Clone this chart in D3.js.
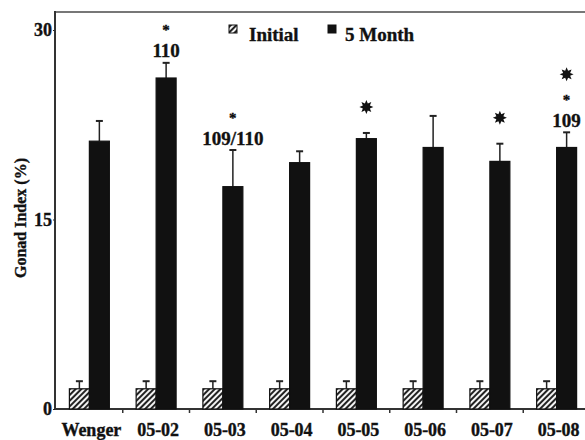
<!DOCTYPE html>
<html>
<head>
<meta charset="utf-8">
<script src="https://d3js.org/d3.v7.min.js"></script>
<style>
  html, body { margin: 0; padding: 0; background: #fff; }
  svg { display: block; }
  text { font-family: "Liberation Serif", "Times New Roman", serif; font-weight: bold; fill: #111; stroke: #111; stroke-width: 0.35px; }
</style>
</head>
<body>
<svg id="chart" width="585" height="440"></svg>
<script>
const categories = ["Wenger", "05-02", "05-03", "05-04", "05-05", "05-06", "05-07", "05-08"];
const seriesNames = ["Initial", "5 Month"];
const initialValues = [1.6, 1.6, 1.6, 1.6, 1.6, 1.6, 1.6, 1.6];
const initialErrors = [0.6, 0.6, 0.6, 0.6, 0.6, 0.6, 0.6, 0.6];
const monthValues = [21.2, 26.2, 17.6, 19.5, 21.4, 20.7, 19.6, 20.7];
const monthErrors = [1.6, 1.2, 2.9, 0.9, 0.45, 2.5, 1.4, 1.2];
const annotationLabels = ["", "110", "109/110", "", "", "", "", "109"];
const smallStars = [false, true, true, false, false, false, false, true];
const bigStars = [false, false, false, false, true, false, true, true];
const yTicks = [0, 15, 30];

(function () {
const svg = d3.select("#chart");
const leftX = 55, bottomY = 409, topY = 12;

const defs = svg.append("defs");
const pat = defs.append("pattern")
  .attr("id", "hatch").attr("patternUnits", "userSpaceOnUse")
  .attr("width", 4).attr("height", 4)
  .attr("patternTransform", "rotate(45)");
pat.append("rect").attr("width", 4).attr("height", 4).attr("fill", "#f4f4f4");
pat.append("rect").attr("width", 2).attr("height", 4).attr("fill", "#222");

const y = d3.scaleLinear().domain([0, 30]).range([bottomY, 30]);
const x = d3.scaleBand().domain(categories).range([56, 590]).padding(0);
const xs = d3.scaleBand().domain(seriesNames).range([0, x.bandwidth()])
  .paddingInner(0).paddingOuter(0.67);

// frame top line
svg.append("line").attr("x1", leftX).attr("x2", 585).attr("y1", topY).attr("y2", topY)
  .attr("stroke", "#777").attr("stroke-width", 2);

// y axis
const yAxis = d3.axisLeft(y).tickValues(yTicks).tickSize(2).tickPadding(1).tickFormat(d3.format("d"));
const gy = svg.append("g").attr("transform", `translate(${leftX},0)`).call(yAxis);
gy.select(".domain").remove();
gy.selectAll(".tick line").attr("stroke", "#222");
gy.selectAll(".tick text").style("font-size", "18px").style("font-family", "Liberation Serif").style("font-weight", "bold").attr("fill", "#111");
svg.append("line").attr("x1", leftX).attr("x2", leftX).attr("y1", topY - 1).attr("y2", bottomY)
  .attr("stroke", "#333").attr("stroke-width", 2);

// x axis
const boundaries = categories.map(c => x(c)).concat([x(categories[categories.length-1]) + x.bandwidth()]);
svg.append("line").attr("x1", leftX).attr("x2", 585).attr("y1", bottomY).attr("y2", bottomY)
  .attr("stroke", "#333").attr("stroke-width", 2);
svg.selectAll(".xtick").data(boundaries.slice(1)).join("line")
  .attr("x1", d => d).attr("x2", d => d).attr("y1", bottomY).attr("y2", bottomY + 4)
  .attr("stroke", "#333").attr("stroke-width", 1.5);
svg.selectAll(".xlab").data(categories).join("text")
  .attr("x", d => x(d) + x.bandwidth() / 2 + 2)
  .attr("y", 436)
  .attr("text-anchor", "middle")
  .style("font-size", "18px")
  .text(d => d);

// y title
svg.append("text")
  .attr("transform", "translate(26,218) rotate(-90)")
  .attr("text-anchor", "middle")
  .style("font-size", "16px")
  .text("Gonad Index (%)");

// bars
const data = categories.map((c, i) => ({
  c, i,
  vals: [
    { s: "Initial", v: initialValues[i], e: initialErrors[i] },
    { s: "5 Month", v: monthValues[i], e: monthErrors[i] }
  ]
}));

const groups = svg.selectAll(".grp").data(data).join("g")
  .attr("transform", d => `translate(${x(d.c)},0)`);

groups.selectAll(".err").data(d => d.vals).join("g").each(function(d) {
  const g = d3.select(this);
  const cx = xs(d.s) + xs.bandwidth() / 2;
  g.append("line").attr("x1", cx).attr("x2", cx).attr("y1", y(d.v)).attr("y2", y(d.v + d.e))
    .attr("stroke", "#222").attr("stroke-width", 1.5);
  g.append("line").attr("x1", cx - 3.5).attr("x2", cx + 3.5).attr("y1", y(d.v + d.e)).attr("y2", y(d.v + d.e))
    .attr("stroke", "#222").attr("stroke-width", 2);
});

groups.selectAll(".bar").data(d => d.vals).join("rect")
  .attr("x", d => xs(d.s))
  .attr("width", xs.bandwidth())
  .attr("y", d => y(d.v))
  .attr("height", d => y(0) - y(d.v))
  .attr("fill", d => d.s === "Initial" ? "url(#hatch)" : "#111")
  .attr("stroke", "#111").attr("stroke-width", 1.2);

// star shape
function starPath(r1, r2, n) {
  const pts = [];
  for (let k = 0; k < 2 * n; k++) {
    const r = k % 2 === 0 ? r1 : r2;
    const a = Math.PI * k / n - Math.PI / 2;
    pts.push([r * Math.cos(a), r * Math.sin(a)]);
  }
  return "M" + pts.map(p => p.join(",")).join("L") + "Z";
}

// annotations
categories.forEach((c, i) => {
  const cx = x(c) + xs("5 Month") + xs.bandwidth() / 2;
  const errTop = y(monthValues[i] + monthErrors[i]);
  if (annotationLabels[i]) {
    svg.append("text").attr("x", cx).attr("y", errTop - 12).attr("dy", "0.35em")
      .attr("text-anchor", "middle").style("font-size", "19px").text(annotationLabels[i]);
  }
  if (smallStars[i]) {
    svg.append("text").attr("x", cx).attr("y", errTop - 38).attr("dy", "0.7em")
      .attr("text-anchor", "middle").attr("fill", "#000").style("fill", "#000")
      .style("font-size", "15px").text("*");
  }
  if (bigStars[i]) {
    const cy = annotationLabels[i] ? errTop - 58 : errTop - 26;
    svg.append("path").attr("d", starPath(7, 3.8, 8))
      .attr("transform", `translate(${cx},${cy})`).attr("fill", "#111");
  }
});

// legend
const legend = [
  { name: "Initial", fill: "url(#hatch)", x: 229, tx: 249 },
  { name: "5 Month", fill: "#111", x: 328, tx: 345 }
];
legend.forEach(l => {
  svg.append("rect").attr("x", l.x).attr("y", 25).attr("width", 8).attr("height", 8)
    .attr("fill", l.fill).attr("stroke", "#111").attr("stroke-width", 1);
  svg.append("text").attr("x", l.tx).attr("y", 41).style("font-size", "19px").text(l.name);
});
})();
</script>
</body>
</html>
